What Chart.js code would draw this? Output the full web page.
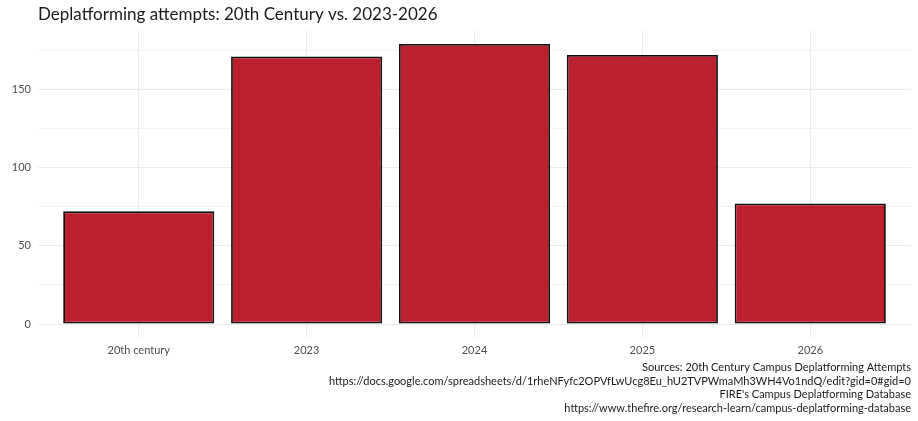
<!DOCTYPE html>
<html>
<head>
<meta charset="utf-8">
<script src="https://cdn.jsdelivr.net/npm/chart.js@4"></script>
<style>
  html, body { margin: 0; padding: 0; background: #fff; }
  #wrap { width: 918px; height: 421px; }
</style>
</head>
<body>
<div id="wrap"><canvas id="chart" width="918" height="421"></canvas></div>
<script>
// --- Data ---
const categories = ['20th century', '2023', '2024', '2025', '2026'];
const attempts = [72, 171, 179, 172, 77];
const yTicks = [0, 25, 50, 75, 100, 125, 150, 175];
const yLabelled = [0, 50, 100, 150];
const titleText = 'Deplatforming attempts: 20th Century vs. 2023-2026';
const captionLines = [
    'Sources: 20th Century Campus Deplatforming Attempts',
    'https://docs.google.com/spreadsheets/d/1rheNFyfc2OPVfLwUcg8Eu_hU2TVPWmaMh3WH4Vo1ndQ/edit?gid=0#gid=0',
    "FIRE's Campus Deplatforming Database",
    'https://www.thefire.org/research-learn/campus-deplatforming-database'
];

const FONT = 'Lato, "Open Sans", sans-serif';
const yPad = Math.max(...attempts) * 0.05;

// title + caption drawn against the plot panel edges
const textPlugin = {
    id: 'panelText',
    afterDraw(chart) {
        const { ctx, chartArea } = chart;
        ctx.save();
        ctx.fillStyle = '#1a1a1a';
        ctx.font = '17px ' + FONT;
        ctx.textAlign = 'left';
        ctx.textBaseline = 'alphabetic';
        ctx.fillText(titleText, chartArea.left, 20);

        ctx.font = '11px ' + FONT;
        ctx.textAlign = 'right';
        captionLines.forEach((line, i) => {
            ctx.fillText(line, chartArea.right, 371 + i * 13.5);
        });
        ctx.restore();
    }
};

const ctx = document.getElementById('chart').getContext('2d');
new Chart(ctx, {
    type: 'bar',
    data: {
        datasets: [{
            data: attempts.map((v, i) => ({ x: i, y: v })),
            backgroundColor: '#BC1F2E',
            borderColor: '#111111',
            borderWidth: 1.8,
            borderSkipped: false,
            categoryPercentage: 1,
            barPercentage: 0.9
        }]
    },
    options: {
        responsive: false,
        animation: false,
        layout: { padding: { left: 0, right: 7, top: 30, bottom: 61 } },
        plugins: {
            legend: { display: false },
            tooltip: { enabled: false }
        },
        scales: {
            x: {
                type: 'linear',
                offset: false,
                min: -0.6,
                max: categories.length - 0.4,
                afterBuildTicks: (scale) => {
                    scale.ticks = categories.map((c, i) => ({ value: i }));
                },
                afterFit: (scale) => { scale.height = 22; },
                border: { display: false },
                grid: { color: '#EBEBEB', lineWidth: 1, drawTicks: false, offset: false },
                ticks: {
                    autoSkip: false,
                    maxRotation: 0,
                    padding: 6,
                    color: '#4d4d4d',
                    font: { family: FONT, size: 11 },
                    callback: (v) => categories[v]
                }
            },
            y: {
                min: -yPad,
                max: Math.max(...attempts) + yPad,
                afterBuildTicks: (scale) => {
                    scale.ticks = yTicks.map(v => ({ value: v }));
                },
                afterFit: (scale) => { scale.width = 38; },
                border: { display: false },
                grid: {
                    color: '#EBEBEB',
                    drawTicks: false,
                    lineWidth: (c) => yLabelled.includes(c.tick.value) ? 1 : 0.6
                },
                ticks: {
                    padding: 7,
                    color: '#4d4d4d',
                    font: { family: FONT, size: 11 },
                    callback: (v) => yLabelled.includes(v) ? String(v) : ''
                }
            }
        }
    },
    plugins: [textPlugin]
});
</script>
</body>
</html>
